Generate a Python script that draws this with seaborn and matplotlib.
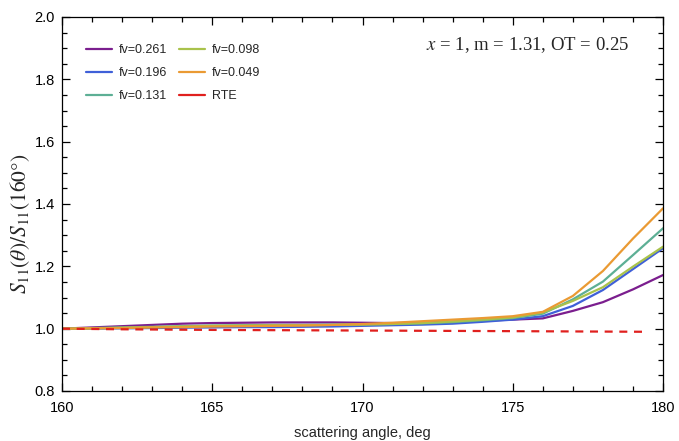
import numpy as np
import pandas as pd
import matplotlib
matplotlib.use("Agg")
import matplotlib.pyplot as plt
from matplotlib.lines import Line2D
from matplotlib.ticker import MultipleLocator, FormatStrFormatter
import seaborn as sns

# Scattering angle grid (deg)
angle = list(range(160, 181))

# Normalised phase function S11(theta)/S11(160 deg) for each volume fraction
s11_fv0261 = [1.000, 1.004, 1.008, 1.012, 1.016, 1.018, 1.019, 1.020, 1.020, 1.020, 1.019,
              1.018, 1.019, 1.022, 1.026, 1.029, 1.033, 1.057, 1.085, 1.126, 1.172]
s11_fv0196 = [1.000, 1.000, 1.001, 1.002, 1.003, 1.004, 1.005, 1.005, 1.006, 1.007, 1.009,
              1.011, 1.013, 1.016, 1.022, 1.029, 1.040, 1.073, 1.124, 1.191, 1.258]
s11_fv0131 = [1.000, 1.002, 1.004, 1.006, 1.008, 1.010, 1.011, 1.012, 1.012, 1.013, 1.014,
              1.015, 1.017, 1.021, 1.027, 1.034, 1.048, 1.094, 1.151, 1.236, 1.322]
s11_fv0098 = [1.000, 1.001, 1.003, 1.005, 1.007, 1.009, 1.010, 1.011, 1.011, 1.012, 1.013,
              1.015, 1.018, 1.023, 1.029, 1.036, 1.052, 1.089, 1.133, 1.199, 1.263]
s11_fv0049 = [1.000, 1.001, 1.002, 1.004, 1.005, 1.007, 1.008, 1.009, 1.010, 1.012, 1.015,
              1.019, 1.024, 1.029, 1.034, 1.040, 1.054, 1.105, 1.185, 1.289, 1.386]

# Radiative transfer equation solution
rte_angle = [160, 162, 165, 170, 175, 179.5]
rte_s11 = [1.000, 0.998, 0.996, 0.994, 0.992, 0.990]

labels = ["fv=0.261", "fv=0.196", "fv=0.131", "fv=0.098", "fv=0.049"]
series = [s11_fv0261, s11_fv0196, s11_fv0131, s11_fv0098, s11_fv0049]
colors = ["#7B1E8E", "#3F60D8", "#5DAF95", "#A9C24B", "#EA9A33"]
rte_color = "#E0201E"

df = pd.DataFrame({
    "angle": np.tile(angle, len(labels)),
    "s11": np.concatenate(series),
    "fv": np.repeat(labels, len(angle)),
})
rte = pd.DataFrame({"angle": rte_angle, "s11": rte_s11})

sns.set_style("ticks")
plt.rcParams["font.family"] = ["Liberation Sans", "DejaVu Sans"]
plt.rcParams["mathtext.fontset"] = "stix"

fig = plt.figure(figsize=(6.79, 4.41), dpi=100)
ax = fig.add_axes([62 / 679, 50 / 441, 601 / 679, 374 / 441])

palette = dict(zip(labels, colors))
sns.lineplot(data=df, x="angle", y="s11", hue="fv", hue_order=labels,
             palette=palette, linewidth=1.6, ax=ax, legend=False)
sns.lineplot(data=rte, x="angle", y="s11", color=rte_color, linewidth=1.6,
             ax=ax, legend=False)
ax.lines[-1].set_dashes([3.6, 3.0])

ax.set_xlim(160, 180)
ax.set_ylim(0.8, 2.0)
ax.xaxis.set_major_locator(MultipleLocator(5))
ax.xaxis.set_minor_locator(MultipleLocator(1))
ax.yaxis.set_major_locator(MultipleLocator(0.2))
ax.yaxis.set_minor_locator(MultipleLocator(0.05))
ax.yaxis.set_major_formatter(FormatStrFormatter("%.1f"))
ax.tick_params(which="both", direction="in", top=True, right=True,
               labelsize=10.5, colors="black", width=0.9)
ax.tick_params(axis="x", which="both", pad=7)
ax.tick_params(axis="y", which="both", pad=5)
ax.tick_params(which="major", length=6)
ax.tick_params(which="minor", length=3.5)
for sp in ax.spines.values():
    sp.set_color("black")
    sp.set_linewidth(0.9)

ax.set_xlabel("scattering angle, deg", fontsize=10.5, labelpad=8)
ax.set_ylabel(r"$S_{\mathit{11}}(\theta)/S_{\mathit{11}}(\mathit{160}°)$", fontsize=15.5)
ax.yaxis.set_label_coords(-0.05, 0.447)

handles = [Line2D([], [], color=c, lw=1.6) for c in colors]
handles.append(Line2D([], [], color=rte_color, lw=1.6))
ax.legend(handles, labels + ["RTE"], ncol=2, loc="upper left",
          bbox_to_anchor=(0.04, 0.928), frameon=False, fontsize=9,
          handlelength=2.1, handletextpad=0.55, labelspacing=0.9,
          columnspacing=0.9, borderaxespad=0, borderpad=0)

ax.text(0.775, 0.925, r"$x$ = 1, m = 1.31, OT = 0.25", transform=ax.transAxes,
        ha="center", va="center", fontsize=13.5, family="Liberation Serif")

fig.savefig("out.png", dpi=100)
